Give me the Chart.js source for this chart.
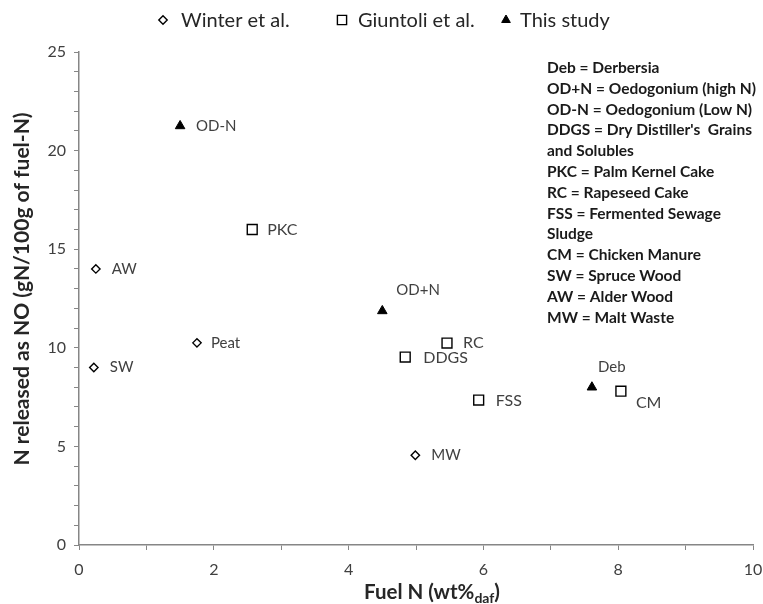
<!DOCTYPE html>
<html>
<head>
<meta charset="utf-8">
<script src="https://cdn.jsdelivr.net/npm/chart.js@4.4.1/dist/chart.umd.min.js"></script>
<style>
  html, body { margin: 0; padding: 0; background: #fff; }
  #wrap { width: 763px; height: 604px; }
</style>
</head>
<body>
<div id="wrap"><canvas id="myChart" width="763" height="604"></canvas></div>
<script>
// Fuel N (wt% daf) vs N released as NO
const winterNames = ['SW', 'AW', 'Peat', 'MW'];
const winterFuelN = [0.22, 0.25, 1.75, 4.99];
const winterNO = [9.0, 14.0, 10.25, 4.55];

const giuntoliNames = ['PKC', 'DDGS', 'RC', 'FSS', 'CM'];
const giuntoliFuelN = [2.57, 4.84, 5.46, 5.93, 8.04];
const giuntoliNO = [16.0, 9.53, 10.24, 7.35, 7.8];

const studyNames = ['OD-N', 'OD+N', 'Deb'];
const studyFuelN = [1.5, 4.5, 7.61];
const studyNO = [21.25, 11.87, 8.0];

const abbreviations = [
  'Deb = Derbersia',
  'OD+N = Oedogonium (high N)',
  'OD-N = Oedogonium (Low N)',
  "DDGS = Dry Distiller's  Grains",
  'and Solubles',
  'PKC = Palm Kernel Cake',
  'RC = Rapeseed Cake',
  'FSS = Fermented Sewage',
  'Sludge',
  'CM = Chicken Manure',
  'SW = Spruce Wood',
  'AW = Alder Wood',
  'MW = Malt Waste'
];

// where each point's name sits relative to its marker
const labelOffset = {
  'SW': [16, 0], 'AW': [16, 0], 'Peat': [14, 0], 'MW': [16, 0],
  'PKC': [15, 0], 'DDGS': [18, 1], 'RC': [16, 0], 'FSS': [17, 1], 'CM': [15, 12],
  'OD-N': [16, 0], 'OD+N': [14, -21], 'Deb': [6, -20]
};

function toPoints(xs, ys, names) {
  return xs.map(function (x, i) {
    return { x: x, y: ys[i], name: names[i] };
  });
}

const textColor = '#404040';
const axisColor = '#868686';
const fontFamily = 'Lato, "Open Sans", sans-serif';

// legend row across the top, markers drawn with the datasets' own point styles
const topLegend = {
  id: 'topLegend',
  afterDraw(chart) {
    const ctx = chart.ctx;
    const ds = chart.data.datasets;
    const legendRadius = [4.2, 6.5, 5];
    const markerX = [163, 342, 506];
    const textGap = [18, 16, 14];
    const y = 20;
    ctx.save();
    ctx.font = '20px ' + fontFamily;
    ds.forEach(function (d, i) {
      ctx.fillStyle = d.backgroundColor;
      ctx.strokeStyle = d.borderColor;
      ctx.lineWidth = d.borderWidth;
      Chart.helpers.drawPoint(ctx, { pointStyle: d.pointStyle, radius: legendRadius[i], borderWidth: d.borderWidth }, markerX[i], y);
      ctx.fillStyle = '#262626';
      ctx.textBaseline = 'middle';
      ctx.textAlign = 'left';
      ctx.fillText(d.label, markerX[i] + textGap[i], y + 1);
    });
    ctx.restore();
  }
};

const pointLabels = {
  id: 'pointLabels',
  afterDatasetsDraw(chart) {
    const ctx = chart.ctx;
    ctx.save();
    ctx.fillStyle = textColor;
    ctx.textBaseline = 'middle';
    ctx.textAlign = 'left';
    chart.data.datasets.forEach(function (ds, di) {
      const meta = chart.getDatasetMeta(di);
      ctx.font = (di === 1 ? '16px ' : '15px ') + fontFamily;
      meta.data.forEach(function (el, i) {
        const name = ds.data[i].name;
        const off = labelOffset[name] || [12, 0];
        ctx.fillText(name, el.x + off[0], el.y + off[1]);
      });
    });
    ctx.restore();
  }
};

const extraText = {
  id: 'extraText',
  afterDraw(chart) {
    const ctx = chart.ctx;
    ctx.save();

    // abbreviation key
    ctx.fillStyle = '#1a1a1a';
    ctx.font = 'bold 15.5px ' + fontFamily;
    ctx.textBaseline = 'middle';
    ctx.textAlign = 'left';
    abbreviations.forEach(function (line, i) {
      ctx.fillText(line, 547, 68 + i * 20.8);
    });

    // y axis title
    ctx.fillStyle = '#262626';
    ctx.font = 'bold 21px ' + fontFamily;
    ctx.textAlign = 'center';
    ctx.save();
    ctx.translate(22, 289);
    ctx.rotate(-Math.PI / 2);
    ctx.fillText('N released as NO (gN/100g of fuel-N)', 0, 0);
    ctx.restore();

    // x axis title with subscript
    const main = 'Fuel N (wt%';
    const sub = 'daf';
    const tail = ')';
    ctx.font = 'bold 20.5px ' + fontFamily;
    const wMain = ctx.measureText(main).width;
    const wTail = ctx.measureText(tail).width;
    ctx.font = 'bold 14px ' + fontFamily;
    const wSub = ctx.measureText(sub).width;
    let x = 432 - (wMain + wSub + wTail) / 2;
    const y = 592;
    ctx.textAlign = 'left';
    ctx.font = 'bold 20.5px ' + fontFamily;
    ctx.fillText(main, x, y);
    x += wMain;
    ctx.font = 'bold 14px ' + fontFamily;
    ctx.fillText(sub, x, y + 6);
    x += wSub;
    ctx.font = 'bold 20.5px ' + fontFamily;
    ctx.fillText(tail, x, y);
    ctx.restore();
  }
};

const ctx = document.getElementById('myChart').getContext('2d');
const myChart = new Chart(ctx, {
  type: 'scatter',
  data: {
    datasets: [
      {
        label: 'Winter et al.',
        data: toPoints(winterFuelN, winterNO, winterNames),
        pointStyle: 'rectRot',
        pointRadius: 4.2,
        borderWidth: 1.4,
        borderColor: '#000',
        backgroundColor: '#fff'
      },
      {
        label: 'Giuntoli et al.',
        data: toPoints(giuntoliFuelN, giuntoliNO, giuntoliNames),
        pointStyle: 'rect',
        pointRadius: 7,
        borderWidth: 1.4,
        borderColor: '#000',
        backgroundColor: '#fff'
      },
      {
        label: 'This study',
        data: toPoints(studyFuelN, studyNO, studyNames),
        pointStyle: 'triangle',
        pointRadius: 5.5,
        borderWidth: 1,
        borderColor: '#000',
        backgroundColor: '#000'
      }
    ]
  },
  options: {
    responsive: false,
    animation: false,
    layout: { padding: { left: 0, right: 0, top: 52, bottom: 0 } },
    plugins: {
      legend: { display: false },
      tooltip: { enabled: false }
    },
    scales: {
      x: {
        type: 'linear',
        min: 0,
        max: 10,
        ticks: {
          stepSize: 1,
          color: textColor,
          font: { family: fontFamily, size: 16 },
          padding: 10,
          maxRotation: 0,
          autoSkip: false,
          callback: function (v) { return v % 2 === 0 ? v : ''; }
        },
        grid: { drawOnChartArea: false, drawTicks: true, tickLength: 5, color: axisColor },
        border: { color: axisColor, width: 1.5 },
        afterFit: function (scale) {
          scale.height = 59;
          scale.paddingLeft = 0;
          scale.paddingRight = 10;
        }
      },
      y: {
        type: 'linear',
        min: 0,
        max: 25,
        ticks: {
          stepSize: 1,
          color: textColor,
          font: { family: fontFamily, size: 16 },
          padding: 8,
          autoSkip: false,
          callback: function (v) { return v % 5 === 0 ? v : ''; }
        },
        grid: { drawOnChartArea: false, drawTicks: true, tickLength: 5, color: axisColor },
        border: { color: axisColor, width: 1.5 },
        afterFit: function (scale) { scale.width = 79; }
      }
    }
  },
  plugins: [topLegend, pointLabels, extraText]
});
</script>
</body>
</html>
